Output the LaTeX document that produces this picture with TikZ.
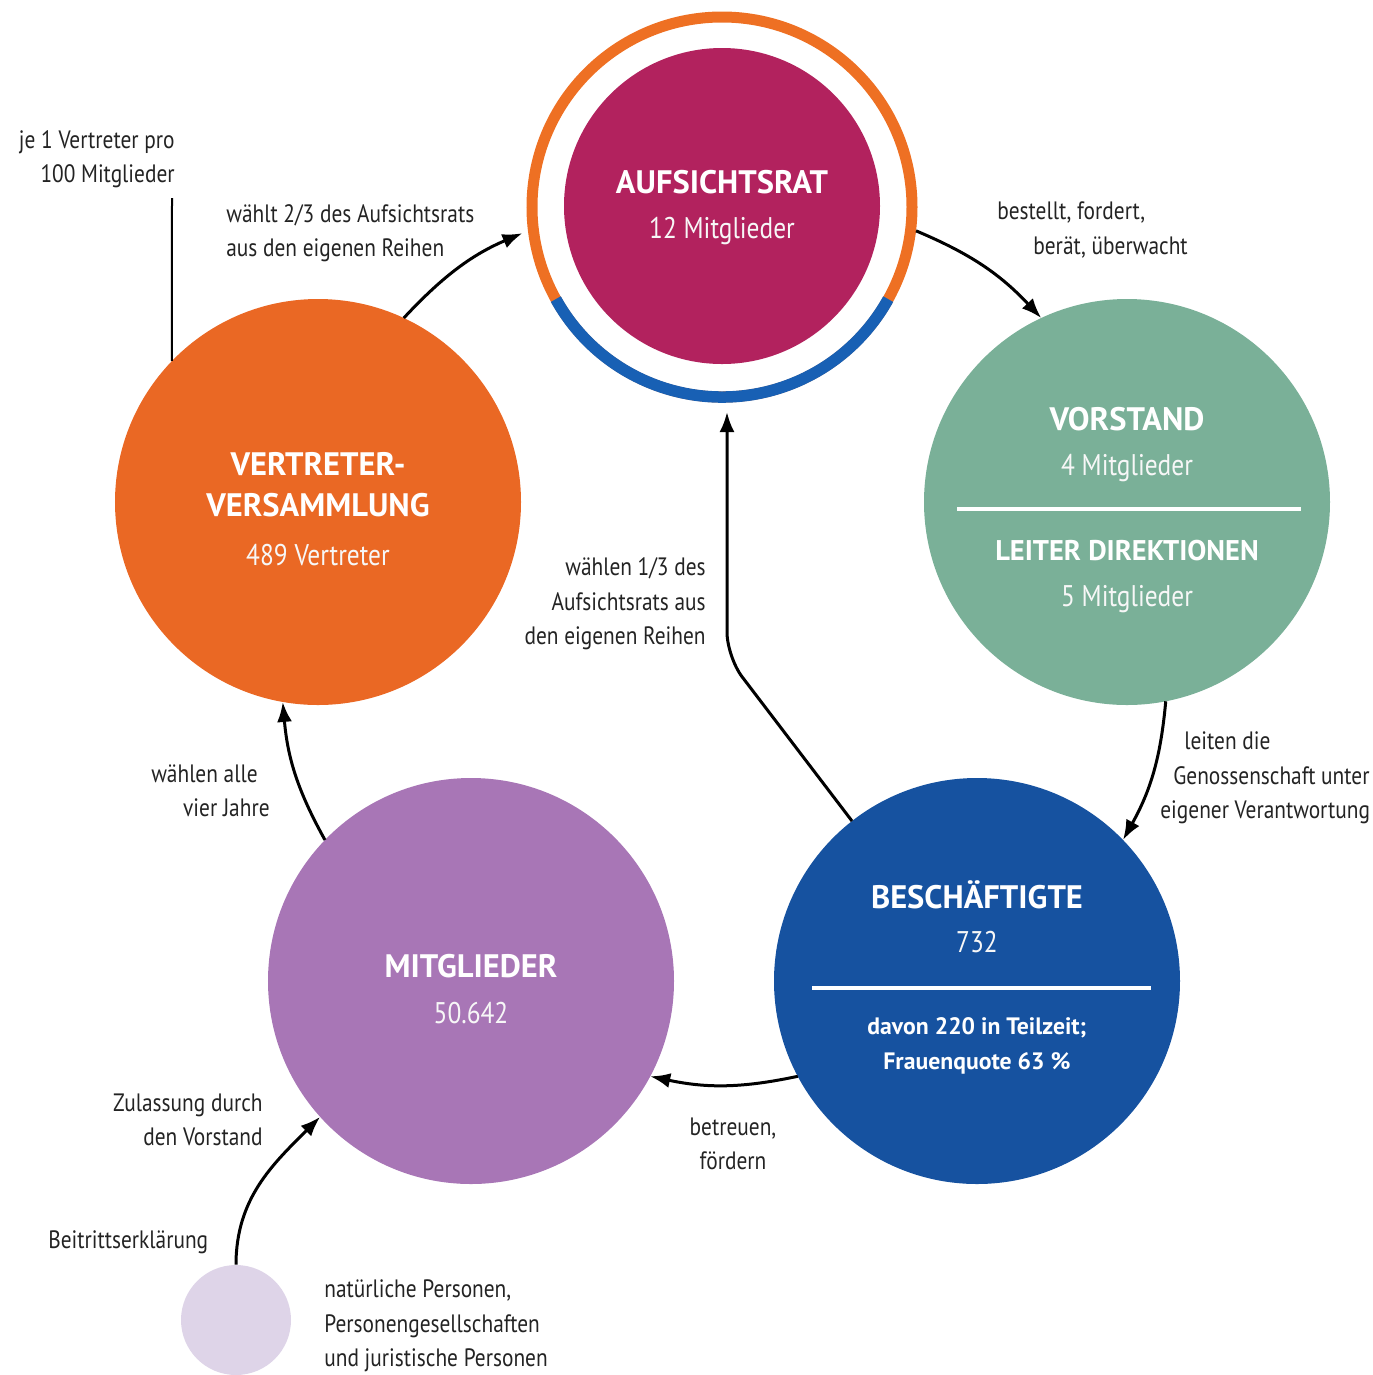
\documentclass[tikz,border=0pt]{standalone}
\usepackage{fontspec}
\setmainfont{PT Sans}[FakeStretch=0.85, BoldFeatures={FakeStretch=1.0}]
\usetikzlibrary{arrows.meta,positioning,calc}
\definecolor{ratmagenta}{RGB}{178,34,94}
\definecolor{ringorange}{RGB}{238,112,35}
\definecolor{ringblue}{RGB}{24,96,180}
\definecolor{vertreterorange}{RGB}{234,104,36}
\definecolor{vorstandgreen}{RGB}{122,176,152}
\definecolor{beschblue}{RGB}{22,82,160}
\definecolor{mitgliedpurple}{RGB}{168,118,182}
\definecolor{personlilac}{RGB}{222,212,232}
\definecolor{labelgray}{RGB}{35,35,35}
\tikzset{
  bigcircle/.style={circle, minimum size=81.2mm, inner sep=0pt, outer sep=0pt},
  headline/.style={text=white, font=\fontsize{18.5}{23.3}\selectfont\bfseries, inner sep=0pt, align=center},
  subline/.style={text=white!94!gray, font=\fontsize{17}{22}\selectfont, inner sep=0pt},
  notetext/.style={text=white, font=\fontsize{13.5}{19.9}\selectfont\bfseries, inner sep=0pt, align=center},
  remark/.style={text=labelgray, font=\fontsize{14.3}{19.6}\selectfont, inner sep=0pt},
  flow/.style={-{Latex[length=4mm,width=3mm]}, line width=0.6mm, black},
  divider/.style={white, line width=0.8mm},
}
\begin{document}
\begin{tikzpicture}[x=0.2mm, y=-0.2mm]
    \useasboundingbox (0,0) rectangle (1373,1375);
    % the five bodies
    \node[bigcircle, fill=vertreterorange] at (318,502) (vers) {};
    \node[bigcircle, fill=vorstandgreen] at (1127,502) (vorstand) {};
    \node[bigcircle, fill=beschblue] at (977,981) (besch) {};
    \node[bigcircle, fill=mitgliedpurple] at (471,981) (mitgl) {};
    \node[circle, minimum size=63.2mm, inner sep=0pt, fill=ratmagenta] at (722,206) (rat) {};
    \node[circle, minimum size=76mm, draw=ringorange, line width=2.2mm] at (722,207) (ring) {};
    \draw[ringblue, line width=2.3mm] (ring.center) ++(209:38mm) arc[start angle=209, end angle=331, radius=38mm];
    \node[circle, minimum size=22mm, inner sep=0pt, fill=personlilac] at (236,1320) (person) {};

    % texts inside
    \node[headline] at (722,182) (rattitle) {AUFSICHTSRAT};
    \node[subline] at (722,231) (ratcount) {12 Mitglieder};
    \node[headline] at (318,485) (verstitle) {VERTRETER-\\VERSAMMLUNG};
    \node[subline] at (318,555) (verscount) {489 Vertreter};
    \node[headline] at (1127,419) (vortitle) {VORSTAND};
    \node[subline] at (1127,468) (vorcount) {4 Mitglieder};
    \draw[divider] (957,509) -- (1301,509);
    \node[headline, font=\fontsize{16.2}{20}\selectfont\bfseries] at (1127,551) (dirtitle) {LEITER DIREKTIONEN};
    \node[subline] at (1127,599) (dircount) {5 Mitglieder};
    \node[headline] at (977,895) (beschtitle) {BESCHÄFTIGTE};
    \node[subline] at (977,942) (beschcount) {732};
    \draw[divider] (812,988) -- (1151,988);
    \node[notetext] at (977,1046) (beschnote) {davon 220 in Teilzeit;\\Frauenquote 63 \%};
    \node[headline] at (471,966) (mitgltitle) {MITGLIEDER};
    \node[subline] at (471,1013) (mitglcount) {50.642};

    % remarks
    \node[remark, anchor=east, align=right] at (175,159) (repr) {je 1 Vertreter pro\\100 Mitglieder};
    \node[remark, anchor=west, align=left] at (226,233) (wahlzwei) {wählt 2/3 des Aufsichtsrats\\aus den eigenen Reihen};
    \node[remark, anchor=west, align=left] at (997,230) (bestellt) {bestellt, fordert,\\\hspace*{7.2mm}berät, überwacht};
    \node[remark, anchor=west, align=left] at (1160,778) (leiten) {\hspace*{4.8mm}leiten die\\\hspace*{2.6mm}Genossenschaft unter\\eigener Verantwortung};
    \node[remark, anchor=east, align=right] at (706,604) (wahldrei) {wählen 1/3 des\\Aufsichtsrats aus\\den eigenen Reihen};
    \node[remark, anchor=east, align=right] at (270,791) (alle) {wählen alle\hspace*{2.4mm}\\vier Jahre};
    \node[remark, anchor=east, align=right] at (263,1120) (zulassung) {Zulassung durch\\den Vorstand};
    \node[remark, anchor=west] at (48,1242) (beitritt) {Beitrittserklärung};
    \node[remark, anchor=west, align=left] at (324,1326) (personen) {natürliche Personen,\\Personengesellschaften\\und juristische Personen};
    \node[remark, align=center] at (733,1144) (betreuen) {betreuen,\\fördern};

    % connectors
    \draw[flow, shorten >=1.2mm] (vers.65) to[bend left=12] (ring.187);
    \draw[flow] (ring.-7) to[bend left=12] (vorstand.115);
    \draw[flow] (vorstand.-79) to[bend left=12] (besch.44);
    \draw[flow] (besch.208) to[bend left=12] (mitgl.-28);
    \draw[flow] (mitgl.136) to[bend left=12] (vers.-100);
    \coordinate (kink) at (727,657);
    \draw[flow, rounded corners=5mm, shorten >=1.9mm] (besch.128) -- (kink) -- (kink |- ring.south);
    \draw[flow] (person.north) to[out=90, in=225] (mitgl.222);
    \coordinate (reprfoot) at (172,198);
    \draw[line width=0.4mm] (vers.136) -- (reprfoot);
\end{tikzpicture}
\end{document}
